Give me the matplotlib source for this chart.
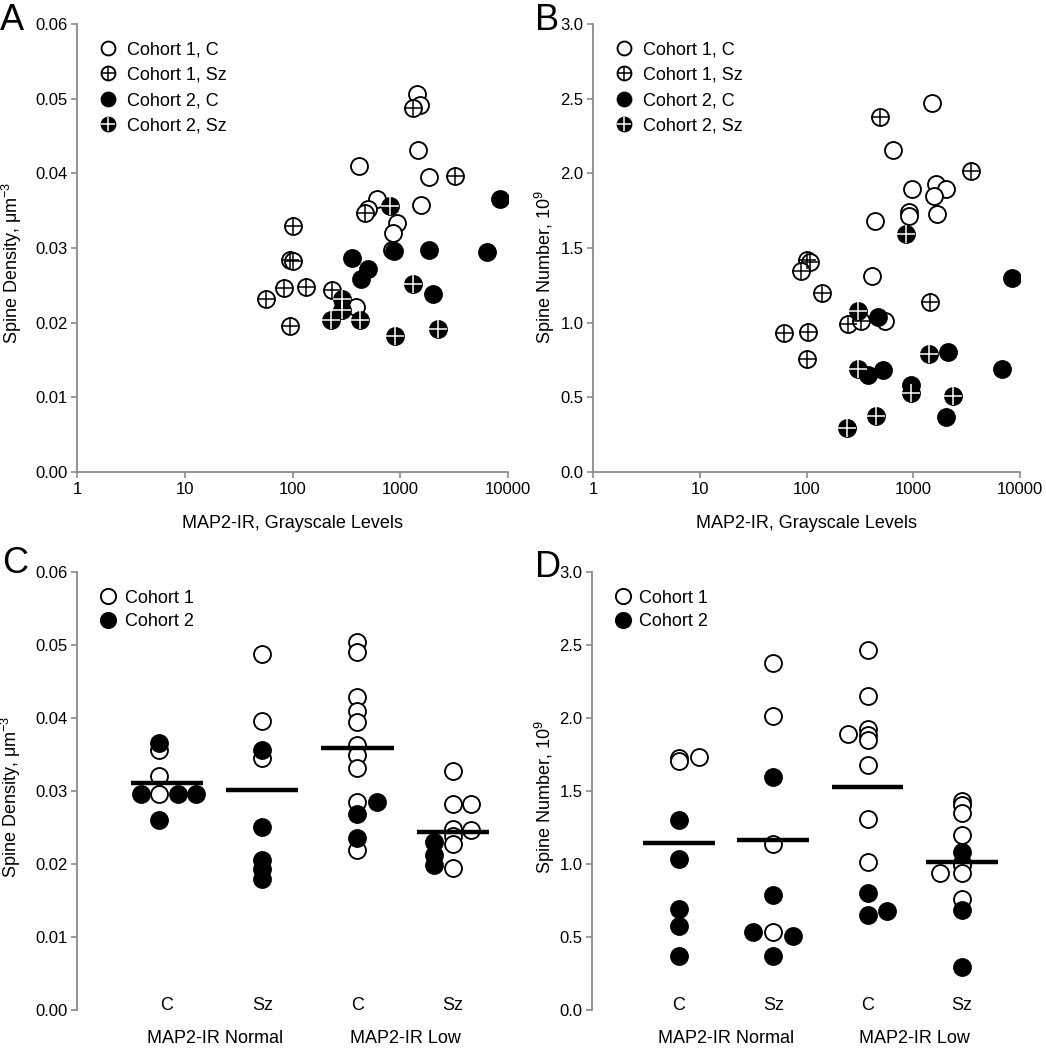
import numpy as np
import matplotlib
matplotlib.use("Agg")
import matplotlib.pyplot as plt
from matplotlib.lines import Line2D
from matplotlib.ticker import FixedLocator, NullLocator

plt.rcParams['font.family'] = ['Liberation Sans', 'DejaVu Sans']
plt.rcParams['mathtext.fontset'] = 'custom'
plt.rcParams['mathtext.rm'] = 'Liberation Sans'
plt.rcParams['mathtext.it'] = 'Liberation Sans:italic'

# ---------------- Data ----------------
# Panel A: MAP2-IR vs spine density
a_c1_c_x = [1426, 1530, 1476, 415, 1854, 606, 1564, 507, 929, 853, 836, 389]
a_c1_c_y = [0.0506, 0.0492, 0.0431, 0.0410, 0.0395, 0.0366, 0.0357, 0.0352, 0.0334, 0.0320, 0.0297, 0.0221]
a_c1_sz_x = [1327, 3235, 472, 100, 95, 102, 84, 133, 57, 232, 95]
a_c1_sz_y = [0.0488, 0.0397, 0.0347, 0.0330, 0.0284, 0.0283, 0.0247, 0.0248, 0.0232, 0.0244, 0.0195]
a_c2_c_x = [355, 500, 434, 878, 1867, 6370, 8340, 2010]
a_c2_c_y = [0.0286, 0.0272, 0.0259, 0.0296, 0.0297, 0.0295, 0.0365, 0.0239]
a_c2_sz_x = [806, 1327, 287, 287, 227, 419, 897, 2234]
a_c2_sz_y = [0.0356, 0.0252, 0.0232, 0.0217, 0.0203, 0.0203, 0.0182, 0.0192]

# Panel B: MAP2-IR vs spine number
b_c1_c_x = [1510, 642, 980, 1622, 2014, 1575, 918, 918, 1657, 441, 411, 544]
b_c1_c_y = [2.469, 2.156, 1.892, 1.928, 1.894, 1.847, 1.742, 1.715, 1.727, 1.682, 1.311, 1.012]
b_c1_sz_x = [488, 3452, 100, 109, 89, 141, 1435, 247, 324, 61, 104, 100]
b_c1_sz_y = [2.379, 2.017, 1.419, 1.407, 1.347, 1.202, 1.139, 0.990, 1.012, 0.931, 0.938, 0.760]
b_c2_c_x = [8400, 464, 2130, 6740, 524, 374, 953, 2014]
b_c2_c_y = [1.296, 1.039, 0.804, 0.688, 0.686, 0.648, 0.581, 0.369]
b_c2_sz_x = [855, 306, 1405, 302, 953, 2372, 445, 241]
b_c2_sz_y = [1.593, 1.079, 0.789, 0.688, 0.529, 0.509, 0.373, 0.295]

scatter_labels = ['Cohort 1, C', 'Cohort 1, Sz', 'Cohort 2, C', 'Cohort 2, Sz']
log_ticks = [1, 10, 100, 1000, 10000]

# Panels C / D: group categories
categories = ['C', 'Sz', 'C', 'Sz']
group_labels = ['MAP2-IR Normal', 'MAP2-IR Low']

c_c1 = [[0.0356, 0.0321, 0.0296],
        [0.0488, 0.0396, 0.0345],
        [0.0504, 0.0490, 0.0429, 0.0409, 0.0394, 0.0363, 0.0350, 0.0332, 0.0285, 0.0219],
        [0.0327, 0.0282, 0.0282, 0.0248, 0.0246, 0.0238, 0.0228, 0.0194]]
c_c2 = [[0.0366, 0.0296, 0.0296, 0.0296, 0.0260],
        [0.0356, 0.0251, 0.0205, 0.0193, 0.0180],
        [0.0285, 0.0268, 0.0236],
        [0.0230, 0.0212, 0.0198]]
c_means = [0.0311, 0.0302, 0.0359, 0.0244]

d_c1 = [[1.725, 1.705, 1.730],
        [2.376, 2.015, 1.138, 0.532],
        [2.463, 2.152, 1.924, 1.885, 1.846, 1.679, 1.309, 1.017, 1.892],
        [1.430, 1.405, 1.350, 1.200, 1.010, 0.990, 0.935, 0.760, 0.935]]
d_c2 = [[1.298, 1.033, 0.690, 0.576, 0.370],
        [1.593, 0.788, 0.372, 0.532, 0.510],
        [0.804, 0.651, 0.681],
        [1.080, 0.685, 0.295]]
d_means = [1.142, 1.165, 1.526, 1.012]

# horizontal jitter (category units), positions only
c_c1_off = [[-0.085] * 3, [0] * 3, [0] * 10, [0, 0, 0.19, 0, 0.19, 0, 0, 0]]
c_c2_off = [[-0.085, -0.275, 0.115, 0.31, -0.085], [0] * 5, [0.2, 0, 0], [-0.2] * 3]
d_c1_off = [[0, 0, 0.21], [0] * 4, [0] * 8 + [-0.21], [0] * 8 + [-0.23]]
d_c2_off = [[0] * 5, [0, 0, 0, -0.22, 0.21], [0, 0, 0.21], [0] * 3]

# ---------------- Style ----------------
W, H = 1046, 1050
fig = plt.figure(figsize=(W / 100, H / 100), dpi=100)
SPINE = '#8a8a8a'
MS = 12.2
EW = 1.35
TICK_FS = 12
LAB_FS = 13
LEG_FS = 13


def rect(l, r, t, b):
    return [l / W, 1 - b / H, (r - l) / W, (b - t) / H]


def style_axes(ax, bottom=True):
    for s in ['top', 'right']:
        ax.spines[s].set_visible(False)
    ax.spines['left'].set_color(SPINE)
    ax.spines['left'].set_linewidth(1.3)
    if bottom:
        ax.spines['bottom'].set_color(SPINE)
        ax.spines['bottom'].set_linewidth(1.3)
    else:
        ax.spines['bottom'].set_visible(False)
    ax.tick_params(direction='out', length=4, width=1.2, color=SPINE,
                   labelsize=TICK_FS, labelcolor='black', pad=3)


def draw_group(ax, x, y, face, cross=None, ms=MS):
    ax.plot(x, y, 'o', ms=ms, mfc=face, mec='black', mew=EW, ls='none', zorder=3)
    if cross is not None:
        ax.plot(x, y, '+', ms=ms + 0.2, mec=cross, mew=1.1, ls='none', zorder=3)


def scatter_handles():
    h1 = Line2D([], [], marker='o', ms=MS, mfc='white', mec='black', mew=EW, ls='none')
    h2a = Line2D([], [], marker='o', ms=MS, mfc='white', mec='black', mew=EW, ls='none')
    h2b = Line2D([], [], marker='+', ms=MS + 0.2, mec='black', mew=1.1, ls='none')
    h3 = Line2D([], [], marker='o', ms=MS, mfc='black', mec='black', mew=EW, ls='none')
    h4a = Line2D([], [], marker='o', ms=MS, mfc='black', mec='black', mew=EW, ls='none')
    h4b = Line2D([], [], marker='+', ms=MS + 0.2, mec='white', mew=1.1, ls='none')
    return [h1, (h2a, h2b), h3, (h4a, h4b)]


def scatter_panel(ax, data, ylim, yticks, yfmt, ylabel, label_x, label_y):
    (c1c_x, c1c_y), (c1s_x, c1s_y), (c2c_x, c2c_y), (c2s_x, c2s_y) = data
    draw_group(ax, c1c_x, c1c_y, 'white')
    draw_group(ax, c1s_x, c1s_y, 'white', cross='black')
    draw_group(ax, c2c_x, c2c_y, 'black')
    draw_group(ax, c2s_x, c2s_y, 'black', cross='white')
    ax.set_xscale('log')
    ax.set_xlim(1, 10000)
    ax.xaxis.set_major_locator(FixedLocator(log_ticks))
    ax.xaxis.set_minor_locator(NullLocator())
    ax.set_xticklabels([str(t) for t in log_ticks])
    ax.set_ylim(*ylim)
    ax.set_yticks(yticks)
    ax.set_yticklabels([yfmt.format(t) for t in yticks])
    style_axes(ax)
    ax.set_xlabel('MAP2-IR, Grayscale Levels', fontsize=LAB_FS)
    ax.xaxis.set_label_coords(0.5, -0.095)
    ax.set_ylabel(ylabel, fontsize=LAB_FS)
    ax.yaxis.set_label_coords(label_x, label_y)
    ax.legend(scatter_handles(), scatter_labels, loc='upper left',
              bbox_to_anchor=(0.051, 0.961), frameon=False, fontsize=LEG_FS,
              borderaxespad=0, borderpad=0, handlelength=1.0, handletextpad=0.55,
              labelspacing=0.46, markerscale=0.82)


def group_panel(ax, c1, c1_off, c2, c2_off, means, ylim, yticks, yfmt, ylabel,
                label_x, label_y, xlim):
    pos = np.arange(1, len(categories) + 1)
    for i, p in enumerate(pos):
        draw_group(ax, p + np.array(c1_off[i]), c1[i], 'white')
    for i, p in enumerate(pos):
        draw_group(ax, p + np.array(c2_off[i]), c2[i], 'black')
    ax.hlines(means, pos - 0.38, pos + 0.38, colors='black', lw=3.2, zorder=5)
    ax.set_xlim(*xlim)
    ax.set_xticks([])
    ax.set_ylim(*ylim)
    ax.set_yticks(yticks)
    ax.set_yticklabels([yfmt.format(t) for t in yticks])
    style_axes(ax, bottom=False)
    tr = ax.get_xaxis_transform()
    for p, c in zip(pos, categories):
        ax.text(p, ylim[0], c, ha='center', va='baseline', fontsize=LAB_FS,
                transform=ax.transData)
    ax.text((pos[0] + pos[1]) / 2, -0.075, group_labels[0], ha='center',
            va='baseline', fontsize=LAB_FS, transform=tr)
    ax.text((pos[2] + pos[3]) / 2, -0.075, group_labels[1], ha='center',
            va='baseline', fontsize=LAB_FS, transform=tr)
    ax.set_ylabel(ylabel, fontsize=LAB_FS)
    ax.yaxis.set_label_coords(label_x, label_y)
    h1 = Line2D([], [], marker='o', ms=MS, mfc='white', mec='black', mew=EW, ls='none')
    h2 = Line2D([], [], marker='o', ms=MS, mfc='black', mec='black', mew=EW, ls='none')
    ax.legend([h1, h2], ['Cohort 1', 'Cohort 2'], loc='upper left',
              bbox_to_anchor=(0.051, 0.960), frameon=False, fontsize=LEG_FS,
              borderaxespad=0, borderpad=0, handlelength=1.0, handletextpad=0.42,
              labelspacing=0.37, markerscale=0.9)


dens_label = r'Spine Density, μm$^{\mathregular{-3}}$'
num_label = r'Spine Number, 10$^{\mathregular{9}}$'

axA = fig.add_axes(rect(77, 508, 24, 472))
scatter_panel(axA, [(a_c1_c_x, a_c1_c_y), (a_c1_sz_x, a_c1_sz_y),
                    (a_c2_c_x, a_c2_c_y), (a_c2_sz_x, a_c2_sz_y)],
              (0, 0.06), [0, 0.01, 0.02, 0.03, 0.04, 0.05, 0.06], '{:.2f}',
              dens_label, -0.123, 0.467)

axB = fig.add_axes(rect(593, 1020, 24, 472))
scatter_panel(axB, [(b_c1_c_x, b_c1_c_y), (b_c1_sz_x, b_c1_sz_y),
                    (b_c2_c_x, b_c2_c_y), (b_c2_sz_x, b_c2_sz_y)],
              (0, 3.0), [0, 0.5, 1.0, 1.5, 2.0, 2.5, 3.0], '{:.1f}',
              num_label, -0.085, 0.458)

axC = fig.add_axes(rect(77, 508, 572, 1010))
group_panel(axC, c_c1, c_c1_off, c_c2, c_c2_off, c_means,
            (0, 0.06), [0, 0.01, 0.02, 0.03, 0.04, 0.05, 0.06], '{:.2f}',
            dens_label, -0.125, 0.487, (0.056, 4.58))

axD = fig.add_axes(rect(592, 1020, 572, 1010))
group_panel(axD, d_c1, d_c1_off, d_c2, d_c2_off, d_means,
            (0, 3.0), [0, 0.5, 1.0, 1.5, 2.0, 2.5, 3.0], '{:.1f}',
            num_label, -0.082, 0.485, (0.077, 4.616))

for lab, x, y in [('A', 0, 3), ('B', 535, 3), ('C', 2, 546), ('D', 535, 550)]:
    fig.text(x / W, 1 - y / H, lab, fontsize=26, ha='left', va='top')

fig.savefig('out.png', dpi=100)
